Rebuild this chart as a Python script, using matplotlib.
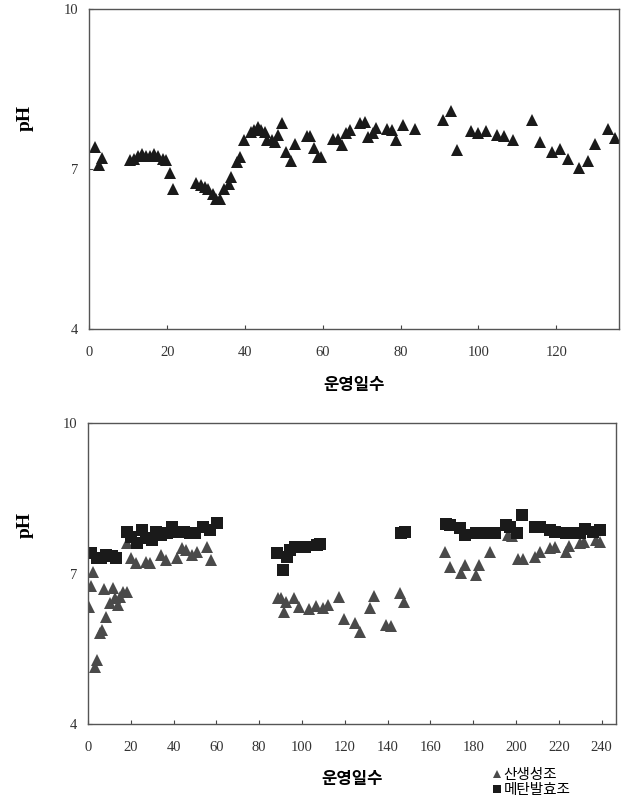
import matplotlib
matplotlib.use("Agg")
import matplotlib.pyplot as plt

plt.rcParams['font.family'] = ['Noto Sans CJK KR', 'DejaVu Sans']

# top chart: pH over operating days
days_top = [1.3, 2.4, 3.3, 10.3, 11.4, 12.4, 13.5, 14.6, 15.6, 16.7, 17.6, 18.9, 19.7, 20.6, 21.4,
            27.5, 28.6, 29.6, 30.6, 31.7, 32.6, 33.5, 34.6, 35.8, 36.5, 37.8, 38.6, 39.6, 41.4, 42.3,
            43.2, 44.2, 45.0, 45.7, 46.8, 47.6, 48.5, 49.5, 50.6, 51.7, 52.8, 55.8, 56.6, 57.7, 58.8,
            59.6, 62.6, 63.8, 64.8, 65.9, 66.9, 69.5, 70.8, 71.6, 72.8, 73.6, 76.5, 77.7, 78.7, 80.6,
            83.7, 90.9, 92.9, 94.6, 98.0, 100.0, 101.9, 104.7, 106.6, 109.0, 113.7, 115.8, 118.8,
            121.0, 122.9, 125.9, 128.1, 130.0, 133.2, 135.1]
ph_top = [7.41, 7.08, 7.21, 7.17, 7.20, 7.24, 7.29, 7.24, 7.24, 7.28, 7.24, 7.19, 7.17, 6.93, 6.62,
          6.74, 6.70, 6.67, 6.62, 6.54, 6.45, 6.45, 6.62, 6.72, 6.86, 7.14, 7.23, 7.54, 7.70, 7.74,
          7.79, 7.73, 7.70, 7.54, 7.54, 7.51, 7.64, 7.86, 7.32, 7.15, 7.48, 7.62, 7.62, 7.39, 7.22,
          7.22, 7.56, 7.56, 7.45, 7.67, 7.73, 7.87, 7.89, 7.61, 7.67, 7.77, 7.76, 7.73, 7.54, 7.83,
          7.76, 7.93, 8.09, 7.36, 7.72, 7.67, 7.72, 7.64, 7.62, 7.54, 7.92, 7.51, 7.32,
          7.37, 7.20, 7.03, 7.16, 7.47, 7.76, 7.59]

# bottom chart: acidogenic (triangles) and methanogenic (squares)
days_acid = [0.4, 1.3, 2.4, 3.2, 4.0, 5.5, 6.6, 7.5, 8.6, 10.2, 11.7, 12.5, 13.8, 14.9, 16.4, 18.0,
             18.0, 20.3, 22.3, 27.0, 29.2, 34.0, 36.4, 41.4, 43.7, 46.0, 48.4, 50.7, 55.4, 57.4,
             88.8, 90.4, 91.5, 92.4, 96.2, 98.5, 103.3, 106.5, 109.6, 112.2, 117.3, 119.5, 124.7,
             127.0, 132.0, 133.7, 139.2, 141.5, 145.7, 147.8,
             167.0, 169.1, 174.1, 176.1, 181.1, 182.8, 187.8, 196.3, 198.0, 201.0, 203.4, 208.8,
             211.2, 216.1, 218.2, 223.2, 224.9, 229.8, 231.7, 237.6, 239.2]
ph_acid = [6.34, 6.75, 7.04, 5.14, 5.28, 5.81, 5.88, 6.69, 6.14, 6.41, 6.71, 6.51, 6.38, 6.54, 6.64, 6.64,
           7.62, 7.31, 7.21, 7.24, 7.22, 7.37, 7.27, 7.31, 7.51, 7.47, 7.37, 7.44, 7.54, 7.27,
           6.51, 6.51, 6.24, 6.44, 6.51, 6.34, 6.29, 6.36, 6.31, 6.38, 6.53, 6.09, 6.01,
           5.84, 6.31, 6.56, 5.97, 5.95, 6.61, 6.44,
           7.43, 7.13, 7.02, 7.17, 6.97, 7.17, 7.43, 7.77, 7.75, 7.29, 7.29, 7.34,
           7.44, 7.52, 7.54, 7.44, 7.55, 7.62, 7.64, 7.67, 7.64]

days_meth = [1.6, 4.0, 6.3, 8.6, 11.0, 13.3, 18.0, 20.3, 22.7, 25.3, 27.3, 29.7, 32.0, 34.3, 37.1,
             39.3, 42.1, 44.9, 47.6, 49.9, 53.8, 56.9, 60.5,
             88.4, 91.3, 92.8, 94.3, 96.6, 99.0, 101.3, 106.8, 108.3,
             146.5, 148.0, 167.5, 169.1, 173.7, 176.1, 181.5, 183.1, 187.8, 190.1, 195.2, 197.4,
             200.5, 203.0, 208.8, 211.2, 215.9, 218.2, 223.6, 225.9, 229.8, 232.1, 236.0, 239.2]
ph_meth = [7.41, 7.31, 7.31, 7.37, 7.35, 7.32, 7.84, 7.74, 7.61, 7.87, 7.71, 7.67, 7.84, 7.77, 7.81,
           7.94, 7.84, 7.84, 7.81, 7.81, 7.94, 7.87, 8.02,
           7.42, 7.07, 7.34, 7.47, 7.53, 7.53, 7.54, 7.57, 7.59,
           7.82, 7.84, 8.00, 7.97, 7.91, 7.77, 7.81, 7.82, 7.82, 7.82, 7.97, 7.94,
           7.81, 8.17, 7.94, 7.93, 7.87, 7.84, 7.82, 7.82, 7.82, 7.89, 7.84, 7.87]

y_ticks = [4, 7, 10]
x_ticks_top = [0, 20, 40, 60, 80, 100, 120]
x_ticks_bot = list(range(0, 241, 20))


def style_axes(ax, xticks, xmax):
    ax.set_xlim(0, xmax)
    ax.set_ylim(4, 10)
    ax.set_xticks(xticks)
    ax.set_yticks(y_ticks)
    ax.tick_params(direction='in', length=3, width=0.8, color='#444444',
                   labelcolor='#333333', pad=8)
    ax.tick_params(axis='x', pad=12)
    for lab in ax.get_xticklabels() + ax.get_yticklabels():
        lab.set_fontfamily('Liberation Serif')
        lab.set_fontsize(10.5)
    for s in ax.spines.values():
        s.set_color('#555555')
        s.set_linewidth(1.0)


fig = plt.figure(figsize=(6.3, 7.99), dpi=100)

ax1 = fig.add_axes([0.142, 0.588, 0.841, 0.4005])
ax1.plot(days_top, ph_top, linestyle='none', marker='^', markersize=9,
         color='#1a1a1a', markeredgewidth=0)
style_axes(ax1, x_ticks_top, 136.2)
ax1.set_xlabel('운영일수', fontsize=12, fontweight='bold', labelpad=12)
fig.text(0.04, 1 - 118 / 799, 'pH', rotation=90, ha='center', va='center',
         fontsize=14, fontweight='bold', family='Liberation Serif')

ax2 = fig.add_axes([0.1397, 0.0939, 0.8376, 0.3763])
ax2.plot(days_acid, ph_acid, linestyle='none', marker='^', markersize=8,
         color='#4a4a4a', markeredgewidth=0, label='산생성조')
ax2.plot(days_meth, ph_meth, linestyle='none', marker='s', markersize=8,
         color='#1a1a1a', markeredgewidth=0, label='메탄발효조')
style_axes(ax2, x_ticks_bot, 246.6)
ax2.set_xlabel('운영일수', fontsize=12, fontweight='bold', labelpad=12)
fig.text(0.04, 1 - 525 / 799, 'pH', rotation=90, ha='center', va='center',
         fontsize=14, fontweight='bold', family='Liberation Serif')

ax2.legend(loc='lower left', bbox_to_anchor=(0.783, 0.002), bbox_transform=fig.transFigure,
           frameon=False, fontsize=10.5, handlelength=0.55, handletextpad=0.15,
           markerscale=0.8, labelspacing=0.1, borderpad=0, borderaxespad=0)

fig.savefig('out.png', dpi=100)
